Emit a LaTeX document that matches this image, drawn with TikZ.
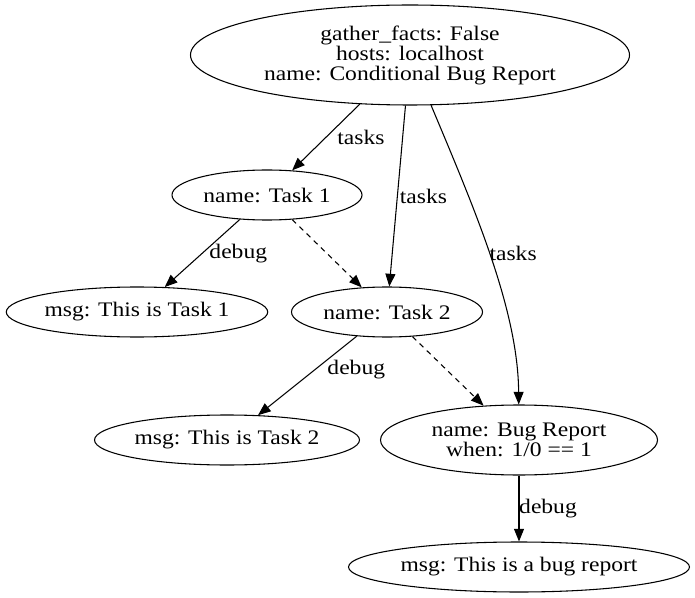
\documentclass[tikz,border=0pt]{standalone}
\usepackage{fontspec}
\setmainfont{Liberation Serif}[FakeStretch=1.14]
\usepackage{tikz}
\usetikzlibrary{shapes, arrows.meta, calc}

\tikzset{
  play/.style={draw, ellipse, inner sep=0pt, align=center, line width=0.8pt,
    font=\fontsize{15.5pt}{15pt}\selectfont},
  edge/.style={line width=0.8pt, -{Triangle[length=9.5pt, width=7.5pt]}},
  lbl/.style={inner sep=0pt, font=\fontsize{15.5pt}{15pt}\selectfont}
}

\begin{document}
\begin{tikzpicture}[x=0.75pt, y=-0.75pt]
\useasboundingbox (0,0) rectangle (695,598);
% nodes
	\node [play, minimum width=329.25pt, minimum height=75pt] (root) at (410,55)
		{gather\_facts: False\\hosts: localhost\\name: Conditional Bug Report};
	\node [play, minimum width=142.5pt, minimum height=37.5pt] (task1) at (267,195) {name: Task 1};
	\node [play, minimum width=195.75pt, minimum height=37.5pt] (msg1) at (137,312) {msg: This is Task 1};
	\node [play, minimum width=143.25pt, minimum height=37.5pt] (task2) at (387,312) {name: Task 2};
	\node [play, minimum width=198.75pt, minimum height=37.5pt] (msg2) at (227,440) {msg: This is Task 2};
	\node [play, minimum width=207.75pt, minimum height=52.5pt] (bug) at (519,440)
		{name: Bug Report\\when: 1/0 == 1};
	\node [play, minimum width=255.75pt, minimum height=37.5pt] (msg3) at (519,567) {msg: This is a bug report};
% edges
	\draw [edge] (root) -- (task1) node [lbl, pos=0.5, shift={(35,0)}] {tasks};
	\draw [edge] (root) -- (task2) node [lbl, pos=0.5, shift={(26,0)}] {tasks};
	\draw [edge] (root) .. controls (475,210) and (518,310) .. (bug)
		node [lbl, pos=0.5, shift={(22,-5)}] {tasks};
	\draw [edge] (task1) -- (msg1) node [lbl, pos=0.5, shift={(36,0)}] {debug};
	\draw [edge, dashed, dash pattern=on 4pt off 3.5pt] (task1) -- (task2);
	\draw [edge] (task2) -- (msg2) node [lbl, pos=0.42, shift={(41,0)}] {debug};
	\draw [edge, dashed, dash pattern=on 4pt off 3.5pt] (task2) -- (bug);
	\draw [edge] (bug) -- (msg3) node [lbl, pos=0.5, shift={(29,0)}] {debug};
\end{tikzpicture}
\end{document}
